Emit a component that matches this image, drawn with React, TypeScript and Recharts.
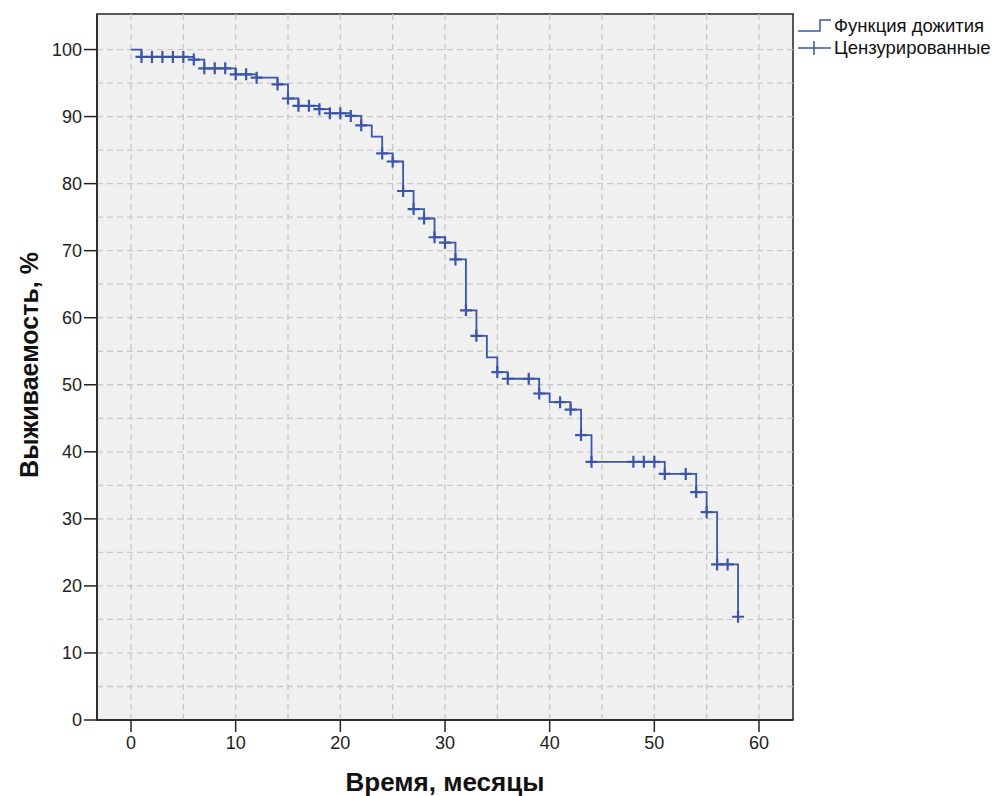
import React from 'react'
import {
  ComposedChart,
  Line,
  Scatter,
  XAxis,
  YAxis,
  ReferenceLine,
  ReferenceArea,
  Label,
} from 'recharts'

// Kaplan-Meier survival: step times (months) and survival (%) after each step
const stepTimes = [0, 1, 6, 7, 10, 12, 14, 15, 16, 18, 19, 21, 22, 23, 24, 25, 26, 27, 28, 29, 30, 31, 32, 33, 34, 35, 36, 39, 40, 42, 43, 44, 51, 54, 55, 56, 58]
const stepSurvival = [100, 98.9, 98.5, 97.2, 96.3, 95.8, 94.8, 92.7, 91.6, 91.1, 90.5, 90.1, 88.7, 87.0, 84.5, 83.3, 78.9, 76.2, 74.8, 72.0, 71.2, 68.7, 61.1, 57.3, 54.1, 51.9, 50.9, 48.7, 47.4, 46.3, 42.5, 38.5, 36.7, 34.0, 31.0, 23.2, 15.4]

// censored observations
const censorTimes = [1, 2, 3, 4, 5, 6, 7, 8, 9, 10, 11, 12, 14, 15, 16, 17, 18, 19, 20, 21, 22, 24, 25, 26, 27, 28, 29, 30, 31, 32, 33, 35, 36, 38, 39, 41, 42, 43, 44, 48, 49, 50, 51, 53, 54, 55, 56, 57, 58]
const censorSurvival = [98.9, 98.9, 98.9, 98.9, 98.9, 98.5, 97.2, 97.2, 97.2, 96.3, 96.3, 95.8, 94.8, 92.7, 91.6, 91.6, 91.1, 90.5, 90.5, 90.1, 88.7, 84.5, 83.3, 78.9, 76.2, 74.8, 72.0, 71.2, 68.7, 61.1, 57.3, 51.9, 50.9, 50.9, 48.7, 47.4, 46.3, 42.5, 38.5, 38.5, 38.5, 38.5, 36.7, 36.7, 34.0, 31.0, 23.2, 23.2, 15.4]

const xTicks = [0, 10, 20, 30, 40, 50, 60]
const yTicks = [0, 10, 20, 30, 40, 50, 60, 70, 80, 90, 100]
const xGrid = [0, 5, 10, 15, 20, 25, 30, 35, 40, 45, 50, 55, 60]
const yGrid = [5, 10, 15, 20, 25, 30, 35, 40, 45, 50, 55, 60, 65, 70, 75, 80, 85, 90, 95, 100]

const X_MIN = -3.25
const X_MAX = 63.25
const Y_MAX = 105.3

const BLUE = '#3b55a8'
const FONT = '"Liberation Sans", Arial, sans-serif'

const steps = stepTimes.map((t, i) => ({ t, s: stepSurvival[i] }))
const censored = censorTimes.map((t, i) => ({ t, s: censorSurvival[i] }))

const CensorMark = (props: any) => {
  const { cx, cy } = props
  if (cx == null || cy == null) return null
  return (
    <path
      d={`M${cx - 6},${cy} h12 M${cx},${cy - 6} v12`}
      stroke={BLUE}
      strokeWidth={2.2}
      fill="none"
    />
  )
}

const YTitle = (props: any) => {
  const vb = props.viewBox || {}
  const x = vb.x + 29
  const y = vb.y + vb.height / 2 - 2
  return (
    <text
      x={x}
      y={y}
      transform={`rotate(-90, ${x}, ${y})`}
      textAnchor="middle"
      dominantBaseline="central"
      fontFamily={FONT}
      fontWeight="bold"
      fontSize={25}
      fill="#111"
    >
      Выживаемость, %
    </text>
  )
}

const XTitle = (props: any) => {
  const vb = props.viewBox || {}
  return (
    <text
      x={vb.x + vb.width / 2}
      y={vb.y + 62}
      textAnchor="middle"
      dominantBaseline="central"
      fontFamily={FONT}
      fontWeight="bold"
      fontSize={26}
      fill="#111"
    >
      Время, месяцы
    </text>
  )
}

function LegendBox() {
  return (
    <div
      style={{
        position: 'absolute',
        left: 797,
        top: 15,
        fontFamily: FONT,
        fontSize: 18.5,
        color: '#111',
        lineHeight: '22px',
      }}
    >
      <div style={{ display: 'flex', alignItems: 'center' }}>
        <svg width={37} height={22}>
          <path d="M1,16 H23 V5 H34" stroke={BLUE} strokeWidth={1.5} fill="none" />
        </svg>
        <span>Функция дожития</span>
      </div>
      <div style={{ display: 'flex', alignItems: 'center' }}>
        <svg width={37} height={22}>
          <path d="M1,11 H34 M17,4 V18" stroke={BLUE} strokeWidth={1.5} fill="none" />
        </svg>
        <span>Цензурированные</span>
      </div>
    </div>
  )
}

export default function App() {
  return (
    <div style={{ position: 'absolute', left: 0, top: 0, width: 997, height: 796, background: '#fff' }}>
      <ComposedChart
        width={997}
        height={796}
        margin={{ top: 14, right: 204, bottom: 0, left: 0 }}
      >
        <ReferenceArea
          x1={X_MIN}
          x2={X_MAX}
          y1={0}
          y2={Y_MAX}
          fill="#f0f0f0"
          fillOpacity={1}
          stroke="none"
        />
        {xGrid.map((v) => (
          <ReferenceLine key={'x' + v} x={v} stroke="#c8c8c8" strokeDasharray="6 4" strokeWidth={1.3} />
        ))}
        {yGrid.map((v) => (
          <ReferenceLine key={'y' + v} y={v} stroke="#c8c8c8" strokeDasharray="6 4" strokeWidth={1.3} />
        ))}
        <XAxis
          type="number"
          dataKey="t"
          domain={[X_MIN, X_MAX]}
          ticks={xTicks}
          allowDataOverflow
          height={76}
          tickSize={12}
          tickMargin={4}
          tick={{ fontSize: 18, fill: '#222', fontFamily: FONT }}
          stroke="#222"
          strokeWidth={1.5}
        >
          <Label content={<XTitle />} />
        </XAxis>
        <YAxis
          type="number"
          dataKey="s"
          domain={[0, Y_MAX]}
          ticks={yTicks}
          allowDataOverflow
          width={97}
          tickSize={13}
          tickMargin={2}
          tick={{ fontSize: 18, fill: '#222', fontFamily: FONT }}
          stroke="#222"
          strokeWidth={1.5}
        >
          <Label content={<YTitle />} />
        </YAxis>
        <ReferenceArea
          x1={X_MIN}
          x2={X_MAX}
          y1={0}
          y2={Y_MAX}
          fill="none"
          stroke="#222"
          strokeWidth={1.5}
        />
        <Line
          data={steps}
          dataKey="s"
          type="stepAfter"
          stroke={BLUE}
          strokeWidth={1.8}
          dot={false}
          activeDot={false}
          isAnimationActive={false}
        />
        <Scatter
          data={censored}
          dataKey="s"
          shape={<CensorMark />}
          isAnimationActive={false}
        />
      </ComposedChart>
      <LegendBox />
    </div>
  )
}
